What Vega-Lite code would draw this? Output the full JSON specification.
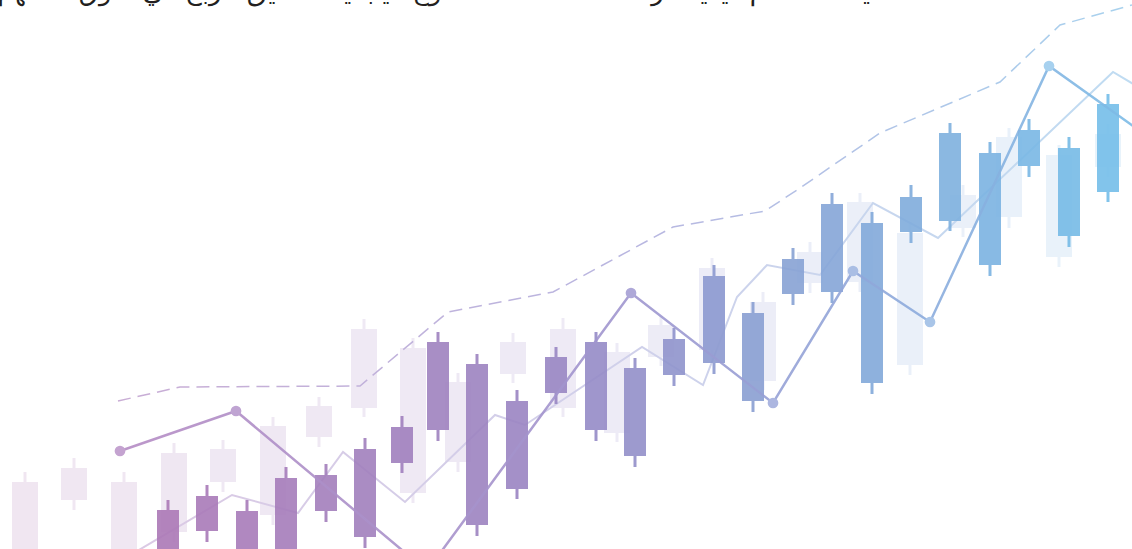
{
  "$schema": "https://vega.github.io/schema/vega-lite/v6.json",
  "width": 1132,
  "height": 549,
  "padding": 0,
  "autosize": {"type": "none"},
  "background": "#ffffff",
  "config": {"view": {"stroke": null}, "scale": {"continuousPadding": 0}},
  "datasets": {
    "candles": [
      {"x": 168, "high": 49, "top": 39, "bottom": -11, "low": -21},
      {"x": 207, "high": 64, "top": 53, "bottom": 18, "low": 7},
      {"x": 247, "high": 49, "top": 38, "bottom": -16, "low": -26},
      {"x": 286, "high": 82, "top": 71, "bottom": -11, "low": -21},
      {"x": 326, "high": 85, "top": 74, "bottom": 38, "low": 27},
      {"x": 365, "high": 111, "top": 100, "bottom": 12, "low": 1},
      {"x": 402, "high": 133, "top": 122, "bottom": 86, "low": 76},
      {"x": 438, "high": 217, "top": 207, "bottom": 119, "low": 108},
      {"x": 477, "high": 195, "top": 185, "bottom": 24, "low": 13},
      {"x": 517, "high": 159, "top": 148, "bottom": 60, "low": 50},
      {"x": 556, "high": 202, "top": 192, "bottom": 156, "low": 145},
      {"x": 596, "high": 217, "top": 207, "bottom": 119, "low": 108},
      {"x": 635, "high": 191, "top": 181, "bottom": 93, "low": 82},
      {"x": 674, "high": 221, "top": 210, "bottom": 174, "low": 163},
      {"x": 714, "high": 284, "top": 273, "bottom": 186, "low": 175},
      {"x": 753, "high": 247, "top": 236, "bottom": 148, "low": 137},
      {"x": 793, "high": 301, "top": 290, "bottom": 255, "low": 244},
      {"x": 832, "high": 356, "top": 345, "bottom": 257, "low": 246},
      {"x": 872, "high": 337, "top": 326, "bottom": 166, "low": 155},
      {"x": 911, "high": 364, "top": 352, "bottom": 317, "low": 306},
      {"x": 950, "high": 426, "top": 416, "bottom": 328, "low": 318},
      {"x": 990, "high": 407, "top": 396, "bottom": 284, "low": 273},
      {"x": 1029, "high": 430, "top": 419, "bottom": 383, "low": 372},
      {"x": 1069, "high": 412, "top": 401, "bottom": 313, "low": 302},
      {"x": 1108, "high": 455, "top": 445, "bottom": 357, "low": 347}
    ],
    "bg": [
      {"x": 25, "high": 77, "top": 67, "bottom": -11, "low": -21},
      {"x": 74, "high": 91, "top": 81, "bottom": 49, "low": 39},
      {"x": 124, "high": 77, "top": 67, "bottom": -11, "low": -21},
      {"x": 174, "high": 106, "top": 96, "bottom": 17, "low": 7},
      {"x": 223, "high": 109, "top": 100, "bottom": 67, "low": 57},
      {"x": 273, "high": 132, "top": 123, "bottom": 34, "low": 24},
      {"x": 319, "high": 152, "top": 143, "bottom": 112, "low": 102},
      {"x": 364, "high": 230, "top": 220, "bottom": 141, "low": 132},
      {"x": 413, "high": 211, "top": 201, "bottom": 56, "low": 46},
      {"x": 458, "high": 176, "top": 167, "bottom": 87, "low": 77},
      {"x": 513, "high": 216, "top": 207, "bottom": 175, "low": 166},
      {"x": 563, "high": 231, "top": 220, "bottom": 141, "low": 132},
      {"x": 617, "high": 206, "top": 197, "bottom": 116, "low": 107},
      {"x": 661, "high": 233, "top": 224, "bottom": 192, "low": 183},
      {"x": 712, "high": 291, "top": 281, "bottom": 199, "low": 189},
      {"x": 763, "high": 257, "top": 247, "bottom": 168, "low": 159},
      {"x": 810, "high": 307, "top": 297, "bottom": 266, "low": 256},
      {"x": 860, "high": 356, "top": 347, "bottom": 267, "low": 257},
      {"x": 910, "high": 327, "top": 316, "bottom": 184, "low": 174},
      {"x": 963, "high": 364, "top": 354, "bottom": 321, "low": 312},
      {"x": 1009, "high": 421, "top": 412, "bottom": 332, "low": 321},
      {"x": 1059, "high": 404, "top": 394, "bottom": 292, "low": 282},
      {"x": 1108, "high": 425, "top": 415, "bottom": 382, "low": 372}
    ],
    "trend": [
      {"x": 120, "v": 98},
      {"x": 236, "v": 138},
      {"x": 427, "v": -22},
      {"x": 631, "v": 256},
      {"x": 773, "v": 146},
      {"x": 853, "v": 278},
      {"x": 930, "v": 227},
      {"x": 1049, "v": 483},
      {"x": 1150, "v": 411}
    ],
    "ma": [
      {"x": 100, "v": -24},
      {"x": 232, "v": 54},
      {"x": 298, "v": 36},
      {"x": 343, "v": 97},
      {"x": 405, "v": 47},
      {"x": 495, "v": 134},
      {"x": 525, "v": 124},
      {"x": 642, "v": 202},
      {"x": 703, "v": 164},
      {"x": 737, "v": 252},
      {"x": 767, "v": 284},
      {"x": 820, "v": 274},
      {"x": 873, "v": 346},
      {"x": 938, "v": 311},
      {"x": 1113, "v": 477},
      {"x": 1140, "v": 461}
    ],
    "ma2": [
      {"x": 118, "v": 148},
      {"x": 180, "v": 162},
      {"x": 360, "v": 163},
      {"x": 448, "v": 237},
      {"x": 553, "v": 257},
      {"x": 673, "v": 322},
      {"x": 765, "v": 338},
      {"x": 800, "v": 361},
      {"x": 880, "v": 416},
      {"x": 1000, "v": 467},
      {"x": 1060, "v": 524},
      {"x": 1132, "v": 544}
    ],
    "caption": [
      {"x": 870, "v": 549, "label": "يمكنك تعلم كيفية قراءة مخططات الشموع اليابانية لتحقيق الربح في سوق الأسهم"}
    ]
  },
  "encoding": {
    "x": {"field": "x", "type": "quantitative", "scale": {"domain": [0, 1132], "nice": false, "zero": false, "padding": 0}, "axis": null}
  },
  "layer": [
    {
      "data": {"name": "bg"},
      "layer": [
        {
          "mark": {"type": "rule", "strokeWidth": 3, "clip": true},
          "encoding": {
            "y": {"field": "low", "type": "quantitative", "scale": {"domain": [0, 549], "nice": false, "zero": false, "padding": 0}, "axis": null},
            "y2": {"field": "high"},
            "color": {"field": "x", "type": "quantitative", "scale": {"domain": [0, 560, 1132], "range": ["#f0e6f1", "#eeeaf5", "#e8f3fb"], "interpolate": "rgb"}, "legend": null}
          }
        },
        {
          "mark": {"type": "bar", "width": 26, "clip": true},
          "encoding": {
            "y": {"field": "bottom", "type": "quantitative", "scale": {"domain": [0, 549], "nice": false, "zero": false, "padding": 0}, "axis": null},
            "y2": {"field": "top"},
            "color": {"field": "x", "type": "quantitative", "scale": {"domain": [0, 560, 1132], "range": ["#f0e6f1", "#eeeaf5", "#e8f3fb"], "interpolate": "rgb"}, "legend": null}
          }
        }
      ]
    },
    {
      "data": {"name": "ma"},
      "mark": {
        "type": "line", "strokeWidth": 2, "clip": true,
        "color": {"gradient": "linear", "x1": 0, "y1": 0, "x2": 1, "y2": 0,
          "stops": [{"offset": 0, "color": "#dcc9e4"}, {"offset": 0.5, "color": "#d0d0ea"}, {"offset": 1, "color": "#bfdcf2"}]}
      },
      "encoding": {
        "y": {"field": "v", "type": "quantitative", "scale": {"domain": [0, 549], "nice": false, "zero": false, "padding": 0}, "axis": null}
      }
    },
    {
      "data": {"name": "ma2"},
      "mark": {
        "type": "line", "strokeWidth": 1.5, "strokeDash": [13, 7], "clip": true,
        "color": {"gradient": "linear", "x1": 0, "y1": 0, "x2": 1, "y2": 0,
          "stops": [{"offset": 0, "color": "#c9add5"}, {"offset": 0.5, "color": "#b9b6e0"}, {"offset": 1, "color": "#a8d2ee"}]}
      },
      "encoding": {
        "y": {"field": "v", "type": "quantitative", "scale": {"domain": [0, 549], "nice": false, "zero": false, "padding": 0}, "axis": null}
      }
    },
    {
      "data": {"name": "candles"},
      "layer": [
        {
          "mark": {"type": "rule", "strokeWidth": 3, "opacity": 0.9, "clip": true},
          "encoding": {
            "y": {"field": "top", "type": "quantitative", "scale": {"domain": [0, 549], "nice": false, "zero": false, "padding": 0}, "axis": null},
            "y2": {"field": "high"},
            "color": {"field": "x", "type": "quantitative", "scale": {"domain": [160, 560, 760, 1110], "range": ["#ab78b6", "#9886c3", "#899fd2", "#74bee9"], "interpolate": "rgb"}, "legend": null}
          }
        },
        {
          "mark": {"type": "rule", "strokeWidth": 3, "opacity": 0.9, "clip": true},
          "encoding": {
            "y": {"field": "low", "type": "quantitative", "scale": {"domain": [0, 549], "nice": false, "zero": false, "padding": 0}, "axis": null},
            "y2": {"field": "bottom"},
            "color": {"field": "x", "type": "quantitative", "scale": {"domain": [160, 560, 760, 1110], "range": ["#ab78b6", "#9886c3", "#899fd2", "#74bee9"], "interpolate": "rgb"}, "legend": null}
          }
        },
        {
          "mark": {"type": "bar", "width": 22, "opacity": 0.9, "clip": true},
          "encoding": {
            "y": {"field": "bottom", "type": "quantitative", "scale": {"domain": [0, 549], "nice": false, "zero": false, "padding": 0}, "axis": null},
            "y2": {"field": "top"},
            "color": {"field": "x", "type": "quantitative", "scale": {"domain": [160, 560, 760, 1110], "range": ["#ab78b6", "#9886c3", "#899fd2", "#74bee9"], "interpolate": "rgb"}, "legend": null}
          }
        }
      ]
    },
    {
      "data": {"name": "trend"},
      "mark": {
        "type": "line", "strokeWidth": 2.5, "opacity": 0.9, "clip": true,
        "color": {"gradient": "linear", "x1": 0, "y1": 0, "x2": 1, "y2": 0,
          "stops": [{"offset": 0, "color": "#b58bc4"}, {"offset": 0.5, "color": "#9f96cf"}, {"offset": 0.75, "color": "#8ea9db"}, {"offset": 1, "color": "#7bbde7"}]}
      },
      "encoding": {
        "y": {"field": "v", "type": "quantitative", "scale": {"domain": [0, 549], "nice": false, "zero": false, "padding": 0}, "axis": null}
      }
    },
    {
      "data": {"name": "trend"},
      "mark": {"type": "point", "filled": true, "size": 115, "opacity": 1, "clip": true},
      "encoding": {
        "y": {"field": "v", "type": "quantitative", "scale": {"domain": [0, 549], "nice": false, "zero": false, "padding": 0}, "axis": null},
        "color": {"field": "x", "type": "quantitative", "scale": {"domain": [120, 630, 1050], "range": ["#c4a3d0", "#aea8d8", "#a7d1ef"], "interpolate": "rgb"}, "legend": null}
      }
    },
    {
      "data": {"name": "caption"},
      "mark": {"type": "text", "align": "right", "baseline": "alphabetic", "font": "DejaVu Sans", "fontSize": 26, "color": "#231f20", "clip": true},
      "encoding": {
        "y": {"field": "v", "type": "quantitative", "scale": {"domain": [0, 549], "nice": false, "zero": false, "padding": 0}, "axis": null},
        "text": {"field": "label"}
      }
    }
  ],
  "resolve": {"scale": {"color": "independent"}}
}
